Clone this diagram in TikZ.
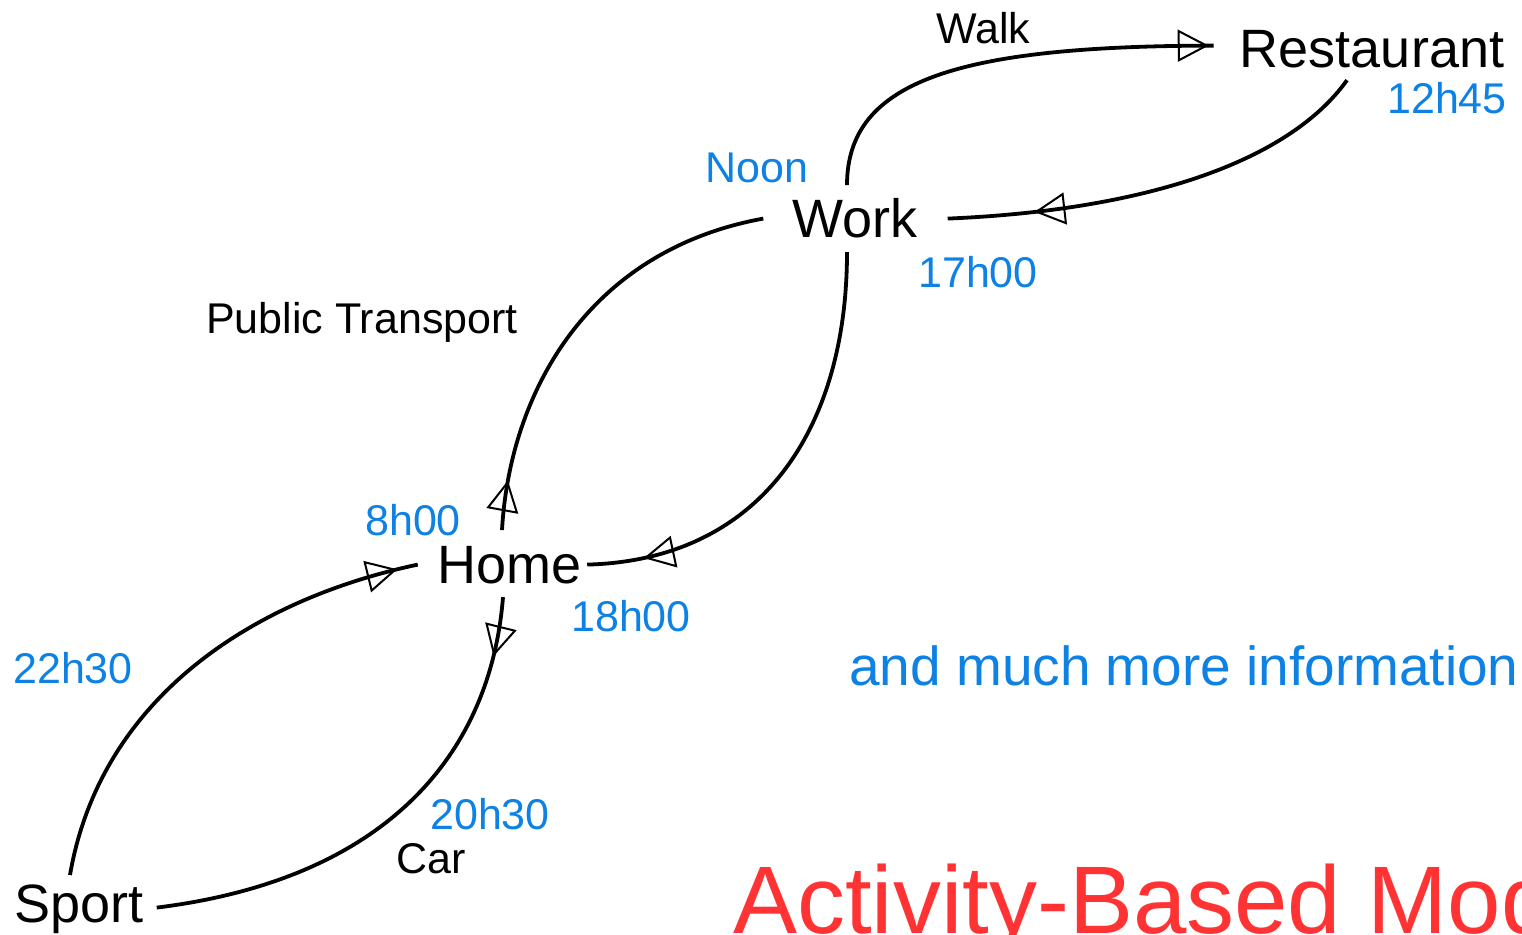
\documentclass[tikz,border=0pt]{standalone}
\usepackage{fontspec}
\setmainfont{Liberation Sans}
\usetikzlibrary{arrows.meta,decorations.markings}
\definecolor{timeblue}{RGB}{14,130,228}
\definecolor{titlered}{RGB}{255,51,51}
\tikzset{
  place/.style={inner sep=0pt, font=\fontsize{54}{60}\selectfont, text height=38.7pt, text depth=0pt, anchor=center},
  edgetext/.style={inner sep=0pt, anchor=base west, font=\fontsize{43}{48}\selectfont},
  timetext/.style={edgetext, text=timeblue},
  trip/.style={line width=3.8pt, draw=black},
  markat/.style={postaction={decorate}, decoration={markings,
    mark=at position #1 with {\arrow{Triangle[open,length=31pt,width=32pt,line width=2pt]}}}}
}
\begin{document}
\begin{tikzpicture}[x=1pt,y=-1pt]
\useasboundingbox (0,0) rectangle (1522,934);
\fill[white] (0,0) rectangle (1522,934);
\clip (0,0) rectangle (1522,934);

% places
\node[place] (rest) at (1372,48.6) {Restaurant};
\node[place] (work) at (855,218.6) {Work};
\node[place] (home) at (510,564.6) {Home};
\node[place] (sport) at (79,903.6) {Sport};

% trips
\draw[trip, markat=-5pt] ([xshift=-8pt,yshift=14pt]work.north)
  .. controls (847,80) and (960,46) .. ([xshift=-26pt,yshift=3pt]rest.west);
\draw[trip, markat=-87pt] ([xshift=-25pt,yshift=-12pt]rest.south)
  .. controls (1290,160) and (1150,210) .. ([xshift=30pt]work.east);
\draw[trip, markat=50pt] ([xshift=-8pt,yshift=15pt]home.north)
  .. controls (510,390) and (590,250) .. ([xshift=-29pt]work.west);
\draw[trip, markat=-57pt] ([xshift=-8pt,yshift=-14pt]work.south)
  .. controls (847,430) and (760,560) .. ([xshift=5pt]home.east);
\draw[trip, markat=-21pt] ([xshift=-9pt,yshift=9pt]sport.north)
  .. controls (100,700) and (250,600) .. ([xshift=-20pt]home.west);
\draw[trip, markat=60pt] ([xshift=-7pt,yshift=-13pt]home.south)
  .. controls (490,760) and (380,880) .. ([xshift=13pt,yshift=-4pt]sport.east);

% mode labels
\node[edgetext] (walk) at (936,44) {Walk};
\node[edgetext] (pt) at (206,333) {Public Transport};
\node[edgetext] (car) at (396,873) {Car};

% times
\node[timetext] (tnoon) at (705,182) {Noon};
\node[timetext] (t1700) at (918,287) {17h00};
\node[timetext] (t1245) at (1387,113) {12h45};
\node[timetext] (t0800) at (365,535) {8h00};
\node[timetext] (t1800) at (571,631) {18h00};
\node[timetext] (t2230) at (13,683) {22h30};
\node[timetext] (t2030) at (430,829) {20h30};

\node[inner sep=0pt, anchor=base west, text=timeblue, font=\fontsize{55}{60}\selectfont] (more) at (849,685) {and much more information};
\node[inner sep=0pt, anchor=base west, text=titlered, font=\fontsize{96}{100}\selectfont] (title) at (733,933) {Activity-Based Models};
\end{tikzpicture}
\end{document}
